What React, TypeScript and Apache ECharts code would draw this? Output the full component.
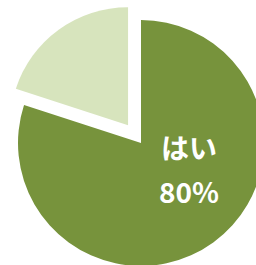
import React, { useEffect, useRef } from "react";
import * as echarts from "echarts";

const categories = ["はい", "いいえ"];
const values = [80, 20];
const colors = ["#77933C", "#D7E4BD"];
const radii = [123, 118];

export default function App() {
  const ref = useRef<HTMLDivElement>(null);
  useEffect(() => {
    document.body.style.margin = "0";
    const chart = echarts.init(ref.current!, null, { renderer: "svg" });
    const total = values.reduce((a, b) => a + b, 0);
    const series = categories.map((_, s) => ({
      type: "pie",
      center: [141, 143],
      radius: [0, radii[s]],
      startAngle: 90,
      clockwise: true,
      selectedMode: "single",
      selectedOffset: 22,
      silent: true,
      itemStyle: { borderWidth: 0 },
      label: {
        show: true,
        position: "inside",
        color: "#ffffff",
        fontFamily: "Noto Sans CJK JP",
        fontWeight: "bold",
        fontSize: 28,
        lineHeight: 44,
        formatter: (p: any) => `${p.name}\n${Math.round((p.value / total) * 100)}%`,
      },
      labelLayout: (params: any) => {
        if (params.dataIndex !== 0) return {};
        return { x: 189, y: 169, align: "center", verticalAlign: "middle" };
      },
      labelLine: { show: false },
      data: categories.map((name, i) => ({
        name,
        value: values[i],
        selected: i === 1,
        itemStyle: { color: colors[i], opacity: i === s ? 1 : 0 },
        label: { show: i === s && i === 0 },
      })),
    }));
    chart.setOption({
      animation: false,
      backgroundColor: "#ffffff",
      series,
    });
    return () => chart.dispose();
  }, []);
  return (
    <div
      ref={ref}
      style={{ position: "absolute", left: 0, top: 0, width: 256, height: 265 }}
    />
  );
}
